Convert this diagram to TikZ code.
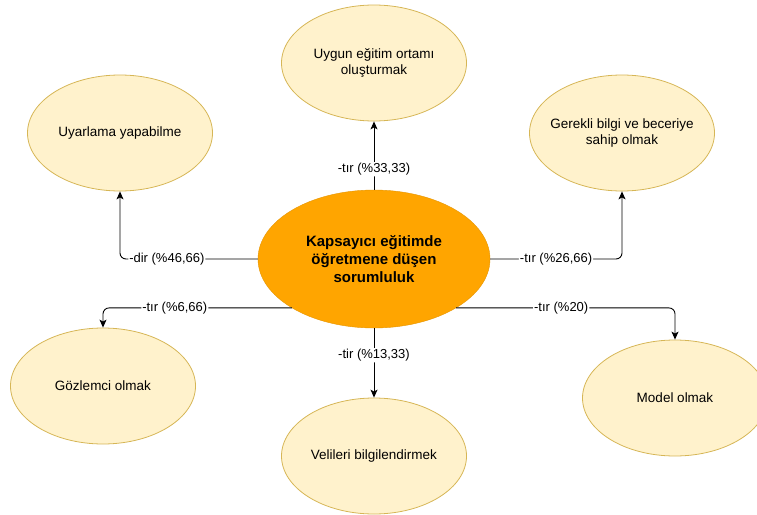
\documentclass[tikz,border=0pt]{standalone}
\usepackage{fontspec}
\setmainfont{Liberation Sans}
\usetikzlibrary{arrows.meta,shapes,positioning}
\definecolor{acik}{HTML}{FFF2CC}
\definecolor{kenar}{HTML}{D6B656}
\definecolor{turuncu}{HTML}{FFA500}
\tikzstyle{edge}=[draw=black, line width=0.9pt, rounded corners=6pt, -{Stealth[length=8pt,width=7pt,inset=2pt]}]

\begin{document}
\begin{tikzpicture}[x=1pt,y=-1pt,
          merkez/.style={ellipse,draw=turuncu!90!black,fill=turuncu,inner sep=0pt,
            minimum width=232pt,minimum height=138pt,align=center,
            font=\fontsize{15}{18}\selectfont\bfseries},
          hedef/.style={ellipse,draw=kenar,fill=acik,line width=0.8pt,inner ysep=0pt,inner xsep=-20pt,
            minimum width=185pt,minimum height=116pt,align=center,
            font=\fontsize{13.5}{16.5}\selectfont},
          etiket/.style={fill=white,inner sep=1pt,font=\fontsize{13}{15}\selectfont}]
        \useasboundingbox (0,0) rectangle (757,514);
        \node [merkez] (m) at (374,259) {Kapsayıcı eğitimde\\öğretmene düşen\\sorumluluk};
        \node [hedef] (ust) at (374,63) {Uygun eğitim ortamı\\oluşturmak};
        \node [hedef] (solust) at (120,133) {Uyarlama yapabilme};
        \node [hedef] (sagust) at (622,133) {Gerekli bilgi ve beceriye\\sahip olmak};
        \node [hedef] (solalt) at (103,386) {Gözlemci olmak};
        \node [hedef] (alt) at (374,456) {Velileri bilgilendirmek};
        \node [hedef] (sagalt) at (675,398) {Model olmak};
        \path[edge]
        (m.north) -- node [etiket,pos=0.3] {-tır (\%33,33)} (ust.south);
        \path[edge]
        (m.west) -| node [etiket,pos=0.33] {-dir (\%46,66)} (solust.south);
        \path[edge]
        (m.east) -| node [etiket,pos=0.25] {-tır (\%26,66)} (sagust.south);
        \path[edge]
        (m.south west) -| node [etiket,pos=0.31] {-tır (\%6,66)} (solalt.north);
        \path[edge]
        (m.south) -- node [etiket,pos=0.39] {-tir (\%13,33)} (alt.north);
        \path[edge]
        (m.south east) -| node [etiket,pos=0.24] {-tır (\%20)} (sagalt.north);
      \end{tikzpicture}
\end{document}
